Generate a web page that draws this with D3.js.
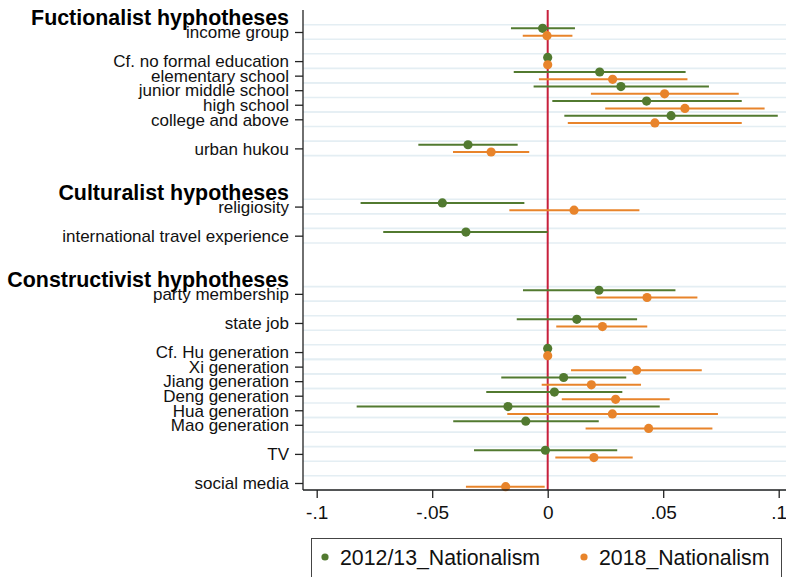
<!DOCTYPE html>
<html>
<head>
<meta charset="utf-8">
<script src="https://cdn.jsdelivr.net/npm/d3@7"></script>
<style>
  html, body { margin: 0; padding: 0; background: #fff; }
  svg { display: block; font-family: "Liberation Sans", Arial, Helvetica, sans-serif; }
</style>
</head>
<body>
<svg id="chart" width="786" height="577"></svg>
<script>
// ---- data ----
const rowKeys = [
  "income group", "_g1",
  "Cf. no formal education", "elementary school", "junior middle school", "high school", "college and above", "_g2",
  "urban hukou", "_g3", "_g4", "_g5",
  "religiosity", "_g6",
  "international travel experience", "_g7", "_g8", "_g9",
  "party membership", "_g10",
  "state job", "_g11",
  "Cf. Hu generation", "Xi generation", "Jiang generation", "Deng generation", "Hua generation", "Mao generation", "_g12",
  "TV", "_g13",
  "social media"
];
const headers = [
  { text: "Fuctionalist hyphotheses", first: "income group" },
  { text: "Culturalist hypotheses", first: "religiosity" },
  { text: "Constructivist hyphotheses", first: "party membership" }
];
const categories = [
  "income group", "Cf. no formal education", "elementary school", "junior middle school", "high school",
  "college and above", "urban hukou", "religiosity", "international travel experience", "party membership",
  "state job", "Cf. Hu generation", "Xi generation", "Jiang generation", "Deng generation", "Hua generation",
  "Mao generation", "TV", "social media"
];
// 2012/13_Nationalism
const est1 = [-0.0022, 0, 0.0225, 0.0317, 0.0428, 0.0534, -0.0345, -0.0456, -0.0354, 0.0222, 0.0126, 0, null, 0.0069, 0.0029, -0.0172, -0.0095, -0.0010, null];
const lo1  = [-0.0159, 0, -0.0147, -0.0061, 0.0020, 0.0072, -0.0560, -0.0810, -0.0712, -0.0107, -0.0134, 0, null, -0.0201, -0.0266, -0.0827, -0.0409, -0.0319, null];
const hi1  = [0.0118, 0, 0.0597, 0.0698, 0.0840, 0.0996, -0.0130, -0.0101, 0.0000, 0.0553, 0.0387, 0, null, 0.0340, 0.0323, 0.0485, 0.0221, 0.0301, null];
// 2018_Nationalism
const est2 = [-0.0003, 0, 0.0281, 0.0506, 0.0594, 0.0464, -0.0245, 0.0114, null, 0.0430, 0.0237, 0, 0.0385, 0.0189, 0.0294, 0.0280, 0.0437, 0.0200, -0.0182];
const lo2  = [-0.0108, 0, -0.0038, 0.0187, 0.0249, 0.0087, -0.0410, -0.0166, null, 0.0211, 0.0037, 0, 0.0101, -0.0026, 0.0061, -0.0175, 0.0164, 0.0033, -0.0354];
const hi2  = [0.0107, 0, 0.0605, 0.0827, 0.0939, 0.0840, -0.0080, 0.0397, null, 0.0648, 0.0431, 0, 0.0667, 0.0404, 0.0528, 0.0737, 0.0713, 0.0368, -0.0013];
const xTicks = [-0.1, -0.05, 0, 0.05, 0.1];
const xTickLabels = ["-.1", "-.05", "0", ".05", ".1"];
const seriesNames = ["2012/13_Nationalism", "2018_Nationalism"];
const seriesColors = ["#527a30", "#e8842b"];

// ---- layout ----
const svg = d3.select("#chart");
const axisX = 303, plotTop = 10, plotBottom = 490, plotRight = 786;

const x = d3.scaleLinear().domain([-0.1, 0.1]).range([316.7, 778.7]);
const y = d3.scalePoint().domain(rowKeys).range([32, 483]).padding(0);
const step = y.step();
const offsets = [-0.25 * step, 0.25 * step];

// gridlines at half rows around each coefficient row
const gridYs = new Set();
categories.forEach(c => { gridYs.add(y(c) - step / 2); gridYs.add(y(c) + step / 2); });
svg.append("g").selectAll("line").data([...gridYs]).join("line")
  .attr("x1", axisX).attr("x2", plotRight)
  .attr("y1", d => d).attr("y2", d => d)
  .attr("stroke", "#e4eef3").attr("stroke-width", 1.6);

// zero reference line
svg.append("line")
  .attr("x1", x(0)).attr("x2", x(0))
  .attr("y1", plotTop).attr("y2", plotBottom)
  .attr("stroke", "#c8203c").attr("stroke-width", 2);

// series
const series = [
  { est: est1, lo: lo1, hi: hi1 },
  { est: est2, lo: lo2, hi: hi2 }
];
series.forEach((s, si) => {
  const pts = categories.map((c, i) => ({ c, e: s.est[i], l: s.lo[i], h: s.hi[i] })).filter(d => d.e !== null);
  const g = svg.append("g");
  g.selectAll("line").data(pts).join("line")
    .attr("x1", d => x(d.l)).attr("x2", d => x(d.h))
    .attr("y1", d => y(d.c) + offsets[si]).attr("y2", d => y(d.c) + offsets[si])
    .attr("stroke", seriesColors[si]).attr("stroke-width", 2);
  g.selectAll("circle").data(pts).join("circle")
    .attr("cx", d => x(d.e)).attr("cy", d => y(d.c) + offsets[si])
    .attr("r", 4.6).attr("fill", seriesColors[si]);
});

// y axis
const yAxis = d3.axisLeft(y).tickValues(categories).tickSize(8).tickPadding(6);
const gy = svg.append("g").attr("transform", `translate(${axisX},0)`).call(yAxis);
gy.select(".domain").attr("d", `M0,${plotTop}V${plotBottom}`).attr("stroke", "#222").attr("stroke-width", 1.3);
gy.selectAll(".tick line").attr("stroke", "#222").attr("stroke-width", 1.3);
gy.selectAll(".tick text").attr("font-size", 17).attr("fill", "#111")
  .attr("font-family", "Liberation Sans, Arial, sans-serif").attr("dy", "0.34em");

// headers
svg.append("g").selectAll("text").data(headers).join("text")
  .attr("x", 289).attr("y", d => y(d.first) - step / 2 + 0.5)
  .attr("text-anchor", "end").attr("font-weight", "bold").attr("font-size", 21.4)
  .attr("fill", "#000").text(d => d.text);

// x axis
const xAxis = d3.axisBottom(x).tickValues(xTicks).tickFormat((d, i) => xTickLabels[i]).tickSize(8).tickPadding(8);
const gx = svg.append("g").attr("transform", `translate(0,${plotBottom})`).call(xAxis);
gx.select(".domain").attr("d", `M${axisX},0H${plotRight}`).attr("stroke", "#222").attr("stroke-width", 1.3);
gx.selectAll(".tick line").attr("stroke", "#222").attr("stroke-width", 1.3);
gx.selectAll(".tick text").attr("font-size", 19).attr("fill", "#111")
  .attr("font-family", "Liberation Sans, Arial, sans-serif");

// legend
const lg = svg.append("g");
lg.append("rect").attr("x", 311.5).attr("y", 538.5).attr("width", 470).attr("height", 60)
  .attr("fill", "#fff").attr("stroke", "#444").attr("stroke-width", 1);
const legendX = [325, 584];
seriesNames.forEach((n, i) => {
  lg.append("circle").attr("cx", legendX[i]).attr("cy", 557).attr("r", 3.6).attr("fill", seriesColors[i]);
  lg.append("text").attr("x", legendX[i] + 15).attr("y", 565).attr("font-size", 21.3).attr("fill", "#111").text(n);
});
</script>
</body>
</html>
